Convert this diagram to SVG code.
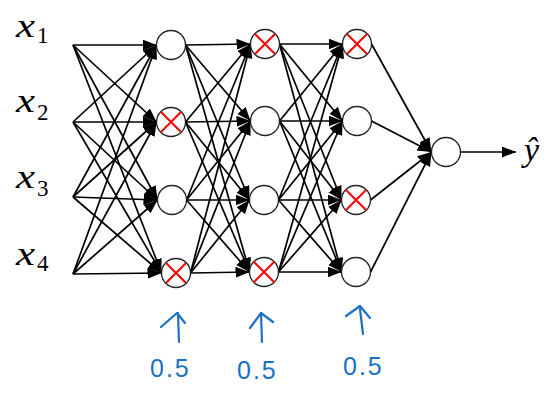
<svg xmlns="http://www.w3.org/2000/svg" width="552" height="398" viewBox="0 0 552 398">
<style>
.e{stroke:#000;stroke-width:1.7;fill:none;marker-end:url(#ah)}
.n{fill:#fff;stroke:#222;stroke-width:1.3}
.x{stroke:#f00;stroke-width:2;fill:none}
.lbl{font-family:"Liberation Serif","DejaVu Serif",serif;font-style:italic;font-size:34px;fill:#000}
.sub{font-family:"Liberation Serif","DejaVu Serif",serif;font-size:23px;fill:#000}
.hw{stroke:#1a70c4;stroke-width:2.2;fill:none;stroke-linecap:round;stroke-linejoin:round}
.hwt{font-family:"Liberation Sans",sans-serif;font-size:25px;fill:#1a70c4;letter-spacing:2px}
</style>
<defs>
<marker id="ah" markerUnits="userSpaceOnUse" markerWidth="16" markerHeight="12" refX="14" refY="5.5" orient="auto">
<path d="M0,0 L14,5.5 L0,11 z" fill="#000"/>
</marker>
</defs>
<g id="labels">
<g id="x1"><text class="lbl" x="16" y="37" textLength="19" lengthAdjust="spacingAndGlyphs">x</text><text class="sub" x="37" y="43">1</text></g>
<g id="x2"><text class="lbl" x="16" y="112" textLength="19" lengthAdjust="spacingAndGlyphs">x</text><text class="sub" x="37" y="120">2</text></g>
<g id="x3"><text class="lbl" x="16" y="188" textLength="19" lengthAdjust="spacingAndGlyphs">x</text><text class="sub" x="37" y="196">3</text></g>
<g id="x4"><text class="lbl" x="16" y="265" textLength="19" lengthAdjust="spacingAndGlyphs">x</text><text class="sub" x="37" y="271">4</text></g>
<g id="yhat"><text class="lbl" x="524" y="161">ŷ</text></g>
</g>
<g id="connectors">
<line class="e" x1="73" y1="45" x2="156.5" y2="45"/>
<line class="e" x1="73" y1="45" x2="156.5" y2="122"/>
<line class="e" x1="73" y1="45" x2="157.5" y2="200"/>
<line class="e" x1="73" y1="45" x2="161.5" y2="273"/>
<line class="e" x1="73" y1="122" x2="156.5" y2="45"/>
<line class="e" x1="73" y1="122" x2="156.5" y2="122"/>
<line class="e" x1="73" y1="122" x2="157.5" y2="200"/>
<line class="e" x1="73" y1="122" x2="161.5" y2="273"/>
<line class="e" x1="73" y1="197" x2="156.5" y2="45"/>
<line class="e" x1="73" y1="197" x2="156.5" y2="122"/>
<line class="e" x1="73" y1="197" x2="157.5" y2="200"/>
<line class="e" x1="73" y1="197" x2="161.5" y2="273"/>
<line class="e" x1="73" y1="274" x2="156.5" y2="45"/>
<line class="e" x1="73" y1="274" x2="156.5" y2="122"/>
<line class="e" x1="73" y1="274" x2="157.5" y2="200"/>
<line class="e" x1="73" y1="274" x2="161.5" y2="273"/>

<line class="e" x1="185.5" y1="45" x2="250.5" y2="44"/>
<line class="e" x1="185.5" y1="45" x2="250.5" y2="121"/>
<line class="e" x1="185.5" y1="45" x2="249.5" y2="200"/>
<line class="e" x1="185.5" y1="45" x2="249.5" y2="272"/>
<line class="e" x1="185.5" y1="122" x2="250.5" y2="44"/>
<line class="e" x1="185.5" y1="122" x2="250.5" y2="121"/>
<line class="e" x1="185.5" y1="122" x2="249.5" y2="200"/>
<line class="e" x1="185.5" y1="122" x2="249.5" y2="272"/>
<line class="e" x1="186.5" y1="200" x2="250.5" y2="44"/>
<line class="e" x1="186.5" y1="200" x2="250.5" y2="121"/>
<line class="e" x1="186.5" y1="200" x2="249.5" y2="200"/>
<line class="e" x1="186.5" y1="200" x2="249.5" y2="272"/>
<line class="e" x1="190.5" y1="273" x2="250.5" y2="44"/>
<line class="e" x1="190.5" y1="273" x2="250.5" y2="121"/>
<line class="e" x1="190.5" y1="273" x2="249.5" y2="200"/>
<line class="e" x1="190.5" y1="273" x2="249.5" y2="272"/>

<line class="e" x1="279.5" y1="44" x2="342.5" y2="44"/>
<line class="e" x1="279.5" y1="44" x2="342.5" y2="121"/>
<line class="e" x1="279.5" y1="44" x2="341.5" y2="200"/>
<line class="e" x1="279.5" y1="44" x2="341.5" y2="272"/>
<line class="e" x1="279.5" y1="121" x2="342.5" y2="44"/>
<line class="e" x1="279.5" y1="121" x2="342.5" y2="121"/>
<line class="e" x1="279.5" y1="121" x2="341.5" y2="200"/>
<line class="e" x1="279.5" y1="121" x2="341.5" y2="272"/>
<line class="e" x1="278.5" y1="200" x2="342.5" y2="44"/>
<line class="e" x1="278.5" y1="200" x2="342.5" y2="121"/>
<line class="e" x1="278.5" y1="200" x2="341.5" y2="200"/>
<line class="e" x1="278.5" y1="200" x2="341.5" y2="272"/>
<line class="e" x1="278.5" y1="272" x2="342.5" y2="44"/>
<line class="e" x1="278.5" y1="272" x2="342.5" y2="121"/>
<line class="e" x1="278.5" y1="272" x2="341.5" y2="200"/>
<line class="e" x1="278.5" y1="272" x2="341.5" y2="272"/>

<line class="e" x1="371.5" y1="44" x2="431.5" y2="152"/>
<line class="e" x1="371.5" y1="121" x2="431.5" y2="152"/>
<line class="e" x1="370.5" y1="200" x2="431.5" y2="152"/>
<line class="e" x1="370.5" y1="272" x2="431.5" y2="152"/>
<line class="e" x1="460.5" y1="152" x2="516" y2="152"/>
</g>
<g id="n1_1"><circle class="n" cx="171" cy="45" r="14.5"/></g>
<g id="n1_2"><circle class="n" cx="171" cy="122" r="14.5"/><path class="x" d="M161,112 L181,132 M181,112 L161,132"/></g>
<g id="n1_3"><circle class="n" cx="172" cy="200" r="14.5"/></g>
<g id="n1_4"><circle class="n" cx="176" cy="273" r="14.5"/><path class="x" d="M166,263 L186,283 M186,263 L166,283"/></g>
<g id="n2_1"><circle class="n" cx="265" cy="44" r="14.5"/><path class="x" d="M255,34 L275,54 M275,34 L255,54"/></g>
<g id="n2_2"><circle class="n" cx="265" cy="121" r="14.5"/></g>
<g id="n2_3"><circle class="n" cx="264" cy="200" r="14.5"/></g>
<g id="n2_4"><circle class="n" cx="264" cy="272" r="14.5"/><path class="x" d="M254,262 L274,282 M274,262 L254,282"/></g>
<g id="n3_1"><circle class="n" cx="357" cy="44" r="14.5"/><path class="x" d="M347,34 L367,54 M367,34 L347,54"/></g>
<g id="n3_2"><circle class="n" cx="357" cy="121" r="14.5"/></g>
<g id="n3_3"><circle class="n" cx="356" cy="200" r="14.5"/><path class="x" d="M346,190 L366,210 M366,190 L346,210"/></g>
<g id="n3_4"><circle class="n" cx="356" cy="272" r="14.5"/></g>
<g id="out"><circle class="n" cx="446" cy="152" r="14.5"/></g>
<g id="annotations">
<path class="hw" d="M179,342 L178,313 M161,327 L177,313 L185,323"/>
<path class="hw" d="M262,342 L261,313 M250,328 L261,313 L273,322"/>
<path class="hw" d="M363,334 L360,309 M346,316 L360,306 L370,318"/>
<text class="hwt" x="150" y="377">0.5</text>
<text class="hwt" x="237" y="379">0.5</text>
<text class="hwt" x="343" y="375">0.5</text>
</g>
</svg>
